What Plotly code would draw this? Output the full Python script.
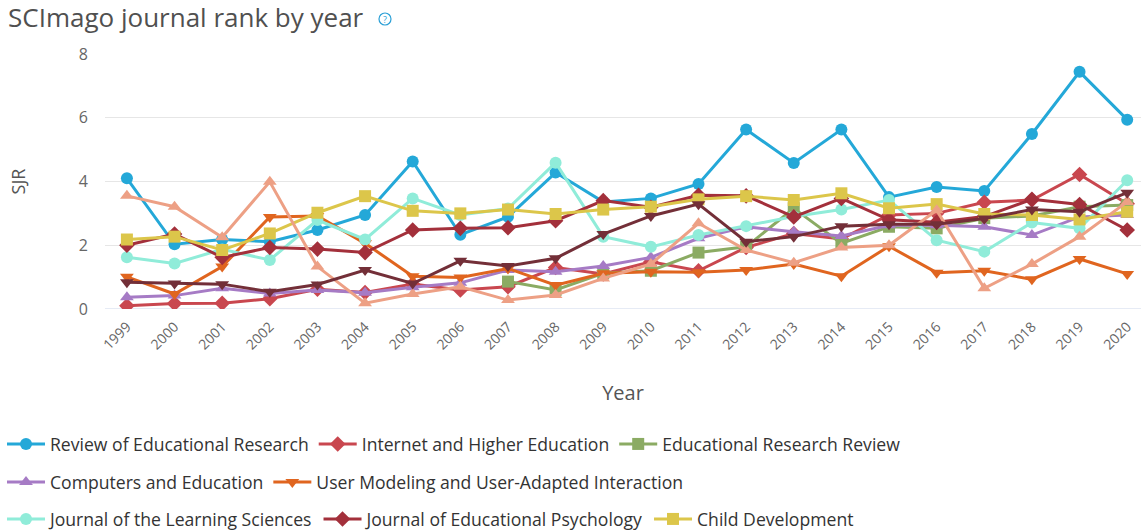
import plotly.graph_objects as go

years = list(range(1999, 2021))

review = [4.10, 2.03, 2.18, 2.11, 2.48, 2.95, 4.63, 2.33, 2.89, 4.28, 3.36, 3.47, 3.92, 5.63, 4.58, 5.63, 3.51, 3.83, 3.70, 5.49, 7.44, 5.94]
internet = [0.10, 0.17, 0.18, 0.32, 0.62, 0.52, 0.78, 0.60, 0.70, 1.30, 1.10, 1.48, 1.20, 1.93, 2.37, 2.20, 2.95, 3.00, 3.35, 3.42, 4.22, 3.30]
edreview = [None, None, None, None, None, None, None, None, 0.86, 0.60, 1.12, 1.20, 1.77, 1.95, 3.16, 2.06, 2.58, 2.53, 2.85, 2.92, 3.21, 3.26]
computers = [0.37, 0.42, 0.65, 0.49, 0.60, 0.51, 0.68, 0.82, 1.22, 1.17, 1.35, 1.62, 2.22, 2.58, 2.42, 2.29, 2.63, 2.63, 2.58, 2.32, 2.89, 2.95]
usermod = [1.01, 0.47, 1.33, 2.89, 2.92, 2.06, 1.03, 0.99, 1.27, 0.75, 1.12, 1.17, 1.15, 1.22, 1.41, 1.03, 1.97, 1.14, 1.20, 0.93, 1.57, 1.10]
jls = [1.62, 1.43, 1.87, 1.54, 2.79, 2.18, 3.47, 2.95, 3.15, 4.59, 2.27, 1.95, 2.32, 2.60, 2.90, 3.12, 3.42, 2.16, 1.80, 2.71, 2.53, 4.04]
jep = [2.00, 2.35, 1.62, 1.93, 1.88, 1.77, 2.48, 2.53, 2.55, 2.77, 3.40, 3.19, 3.57, 3.55, 2.89, 3.47, 2.80, 2.72, 2.90, 3.44, 3.28, 2.48]
child = [2.18, 2.27, 1.85, 2.37, 3.02, 3.54, 3.08, 3.00, 3.12, 2.98, 3.12, 3.21, 3.44, 3.54, 3.42, 3.63, 3.16, 3.29, 2.98, 2.95, 2.81, 3.05]
series9 = [3.55, 3.21, 2.25, 3.99, 1.33, 0.18, 0.47, 0.70, 0.28, 0.44, 0.96, 1.41, 2.69, 1.85, 1.45, 1.93, 2.00, 3.10, 0.65, 1.41, 2.27, 3.36]
series10 = [0.84, 0.80, 0.78, 0.54, 0.77, 1.22, 0.80, 1.51, 1.35, 1.59, 2.35, 2.92, 3.29, 2.11, 2.27, 2.60, 2.66, 2.66, 2.84, 3.12, 3.05, 3.65]

names = ["Review of Educational Research", "Internet and Higher Education", "Educational Research Review",
         "Computers and Education", "User Modeling and User-Adapted Interaction",
         "Journal of the Learning Sciences", "Journal of Educational Psychology", "Child Development",
         "", ""]
values = [review, internet, edreview, computers, usermod, jls, jep, child, series9, series10]
colors = ["#24a8d8", "#c9474f", "#8bab63", "#a67bc5", "#e0651f", "#90ecd9", "#a3303b", "#dcc64a", "#eda085", "#732f38"]
symbols = ["circle", "diamond", "square", "triangle-up", "triangle-down",
           "circle", "diamond", "square", "triangle-up", "triangle-down"]
legends = ["legend", "legend", "legend", "legend2", "legend2", "legend3", "legend3", "legend3", None, None]

FONT = "Open Sans"

fig = go.Figure()
for n, v, c, s, lg in zip(names, values, colors, symbols, legends):
    kw = dict(legend=lg) if lg else dict(showlegend=False)
    fig.add_trace(go.Scatter(
        x=years, y=v, name=n, mode="lines+markers",
        line=dict(color=c, width=3),
        marker=dict(symbol=s, size=12, color=c),
        **kw))

W, H = 1141, 532
# plot area in page pixels
PL, PT, PR, PB = 105, 54, 1141, 309
pw, ph = PR - PL, PB - PT

def px(X):
    return (X - PL) / pw

def py(Y):
    return (PB - Y) / ph

legend_common = dict(orientation="h", xanchor="left", yanchor="middle", itemwidth=38,
                     font=dict(family=FONT, size=17.6, color="#333333"),
                     bgcolor="rgba(0,0,0,0)", itemclick=False, itemdoubleclick=False)

fig.update_layout(
    width=W, height=H,
    margin=dict(l=PL, r=W - PR, t=PT, b=H - PB, autoexpand=False),
    paper_bgcolor="white", plot_bgcolor="white",
    font=dict(family=FONT, color="#666666"),
    title=dict(text="SCImago journal rank by year", x=8 / W, xanchor="left",
               y=1 - 17.5 / H, yanchor="middle",
               font=dict(family=FONT, size=26, color="#505050")),
    xaxis=dict(
        range=[1998.54, 2020.29], tickmode="array", tickvals=years,
        ticktext=[str(y) for y in years], tickangle=-45,
        tickfont=dict(family=FONT, size=14, color="#666666"),
        showgrid=False, zeroline=False, showline=False, ticks="", ticklabelstandoff=6,
        title=dict(text="Year", font=dict(family=FONT, size=20, color="#555555"), standoff=33),
    ),
    yaxis=dict(
        range=[0, 8], tickvals=[0, 2, 4, 6, 8],
        tickfont=dict(family=FONT, size=16, color="#666666"),
        showgrid=True, gridcolor="#e6e6e6", gridwidth=1,
        zeroline=False, showline=False, ticks="", ticklabelstandoff=16,
        title=dict(text="SJR", font=dict(family=FONT, size=18, color="#555555"), standoff=48),
    ),
    legend=dict(x=px(2), y=py(444), **legend_common),
    legend2=dict(x=px(2), y=py(482), **legend_common),
    legend3=dict(x=px(2), y=py(519), **legend_common),
    shapes=[
        dict(type="line", xref="paper", yref="y", x0=0, x1=1, y0=0, y1=0,
             line=dict(color="#ccd6eb", width=1), layer="below"),
        dict(type="circle", xref="paper", yref="paper", xsizemode="pixel", ysizemode="pixel",
             xanchor=px(385), yanchor=py(19), x0=-6, x1=6, y0=-6, y1=6,
             line=dict(color="#2a9fd6", width=1.2)),
    ],
    annotations=[
        dict(text="?", xref="paper", yref="paper", x=px(385), y=py(19), showarrow=False,
             xanchor="center", yanchor="middle", font=dict(family=FONT, size=9, color="#2a9fd6")),
    ],
)

fig.write_html("out.html", config={"displayModeBar": False},
               post_script="document.body.style.margin='0';")
